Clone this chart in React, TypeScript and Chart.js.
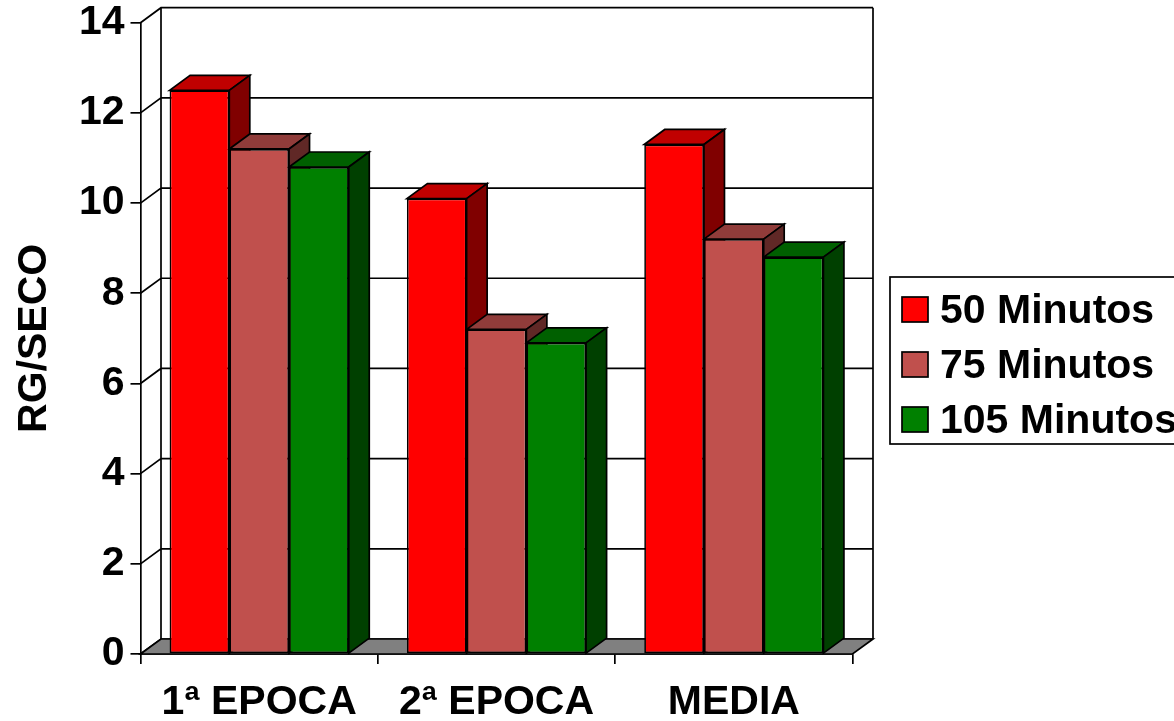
import React, { useEffect, useRef } from "react";
import { Chart, registerables } from "chart.js";

Chart.register(...registerables);

const categories = ["1ª EPOCA", "2ª EPOCA", "MEDIA"];
const seriesNames = ["50 Minutos", "75 Minutos", "105 Minutos"];
const minutes50 = [12.5, 10.1, 11.3];
const minutes75 = [11.2, 7.2, 9.2];
const minutes105 = [10.8, 6.9, 8.8];
const yTicks = [0, 2, 4, 6, 8, 10, 12, 14];

const FONT = '"Liberation Sans", Arial, sans-serif';
const FONT_SIZE = 41;
const DEPTH_X = 20.5;
const DEPTH_Y = 15;
const LINE = 1.7;

const fronts = ["#ff0000", "#c0504d", "#008000"];
const tops = ["#c00000", "#903c3a", "#006000"];
const sides = ["#800000", "#602826", "#004000"];

function poly(ctx: CanvasRenderingContext2D, pts: number[][], fill: string | null) {
  ctx.beginPath();
  pts.forEach(([x, y], i) => (i ? ctx.lineTo(x, y) : ctx.moveTo(x, y)));
  ctx.closePath();
  if (fill) {
    ctx.fillStyle = fill;
    ctx.fill();
  }
  ctx.stroke();
}

// Back wall, side wall, floor and the extruded faces of every bar.
const depthPlugin = {
  id: "depth",
  beforeDatasetsDraw(chart: any) {
    const { ctx, chartArea: a, scales } = chart;
    ctx.save();
    ctx.strokeStyle = "#000";
    ctx.lineWidth = LINE;
    const y = scales.y;
    const top = y.getPixelForValue(14);
    const zero = y.getPixelForValue(0);

    ctx.beginPath();
    yTicks.forEach((t) => {
      const py = y.getPixelForValue(t);
      ctx.moveTo(a.left, py);
      ctx.lineTo(a.left + DEPTH_X, py - DEPTH_Y);
      ctx.lineTo(a.right + DEPTH_X, py - DEPTH_Y);
    });
    ctx.moveTo(a.left + DEPTH_X, top - DEPTH_Y);
    ctx.lineTo(a.left + DEPTH_X, zero - DEPTH_Y);
    ctx.moveTo(a.right + DEPTH_X, top - DEPTH_Y);
    ctx.lineTo(a.right + DEPTH_X, zero - DEPTH_Y);
    ctx.stroke();

    poly(
      ctx,
      [
        [a.left, zero],
        [a.right, zero],
        [a.right + DEPTH_X, zero - DEPTH_Y],
        [a.left + DEPTH_X, zero - DEPTH_Y],
      ],
      "#808080",
    );

    chart.data.datasets.forEach((_: any, i: number) => {
      chart.getDatasetMeta(i).data.forEach((bar: any) => {
        const p = bar.getProps(["x", "y", "base", "width"], true);
        const l = p.x - p.width / 2;
        const r = p.x + p.width / 2;
        poly(
          ctx,
          [
            [l, p.y],
            [r, p.y],
            [r + DEPTH_X, p.y - DEPTH_Y],
            [l + DEPTH_X, p.y - DEPTH_Y],
          ],
          tops[i],
        );
        poly(
          ctx,
          [
            [r, p.y],
            [r + DEPTH_X, p.y - DEPTH_Y],
            [r + DEPTH_X, p.base - DEPTH_Y],
            [r, p.base],
          ],
          sides[i],
        );
      });
    });
    ctx.restore();
  },
  // Boxed series key beside the plot; its right side runs off the canvas.
  afterDraw(chart: any) {
    const { ctx } = chart;
    ctx.save();
    ctx.strokeStyle = "#000";
    ctx.lineWidth = LINE;
    ctx.fillStyle = "#fff";
    ctx.fillRect(890, 277, 300, 167);
    ctx.strokeRect(890, 277, 300, 167);
    ctx.font = `bold ${FONT_SIZE}px ${FONT}`;
    ctx.textBaseline = "alphabetic";
    chart.data.datasets.forEach((ds: any, i: number) => {
      const rowY = 297 + i * 55;
      ctx.fillStyle = ds.backgroundColor;
      ctx.fillRect(902, rowY, 26, 25);
      ctx.strokeRect(902, rowY, 26, 25);
      ctx.fillStyle = "#000";
      ctx.fillText(ds.label, 940, rowY + 26);
    });
    ctx.restore();
  },
};

export default function App() {
  const ref = useRef<HTMLCanvasElement>(null);

  useEffect(() => {
    const values = [minutes50, minutes75, minutes105];
    const chart = new Chart(ref.current!, {
      type: "bar",
      data: {
        labels: categories,
        datasets: seriesNames.map((label, i) => ({
          label,
          data: values[i],
          backgroundColor: fronts[i],
          borderColor: "#000",
          borderWidth: LINE,
          borderSkipped: false,
          barPercentage: 1,
          categoryPercentage: 0.755,
        })),
      },
      options: {
        responsive: false,
        animation: false,
        events: [],
        layout: { padding: { top: 22.7, right: 321.5, left: 0, bottom: 0 } },
        plugins: { legend: { display: false }, title: { display: false }, tooltip: { enabled: false } },
        scales: {
          x: {
            afterFit: (s: any) => {
              s.height = 67;
              s.paddingLeft = 0;
              s.paddingRight = 0;
            },
            grid: { offset: true, drawOnChartArea: false, color: "#000", lineWidth: LINE, tickLength: 10 },
            border: { color: "#000", width: LINE },
            ticks: {
              color: "#000",
              padding: 14,
              maxRotation: 0,
              font: { family: FONT, size: FONT_SIZE, weight: "bold" },
            },
          },
          y: {
            min: 0,
            max: 14,
            afterFit: (s: any) => {
              s.width = 140.5;
              s.paddingTop = 0;
              s.paddingBottom = 0;
            },
            grid: { drawOnChartArea: false, color: "#000", lineWidth: LINE, tickLength: 10 },
            border: { color: "#000", width: LINE },
            ticks: {
              stepSize: 2,
              color: "#000",
              padding: 6,
              font: { family: FONT, size: FONT_SIZE, weight: "bold" },
            },
            title: {
              display: true,
              text: "RG/SECO",
              color: "#000",
              padding: { top: 10, bottom: 0 },
              font: { family: FONT, size: FONT_SIZE, weight: "bold" },
            },
          },
        },
      },
      plugins: [depthPlugin],
    } as any);
    return () => chart.destroy();
  }, []);

  return (
    <div style={{ position: "absolute", left: 0, top: 0, width: 1174, height: 721, overflow: "hidden", background: "#fff" }}>
      <canvas ref={ref} width={1174} height={721} style={{ display: "block" }} />
    </div>
  );
}
